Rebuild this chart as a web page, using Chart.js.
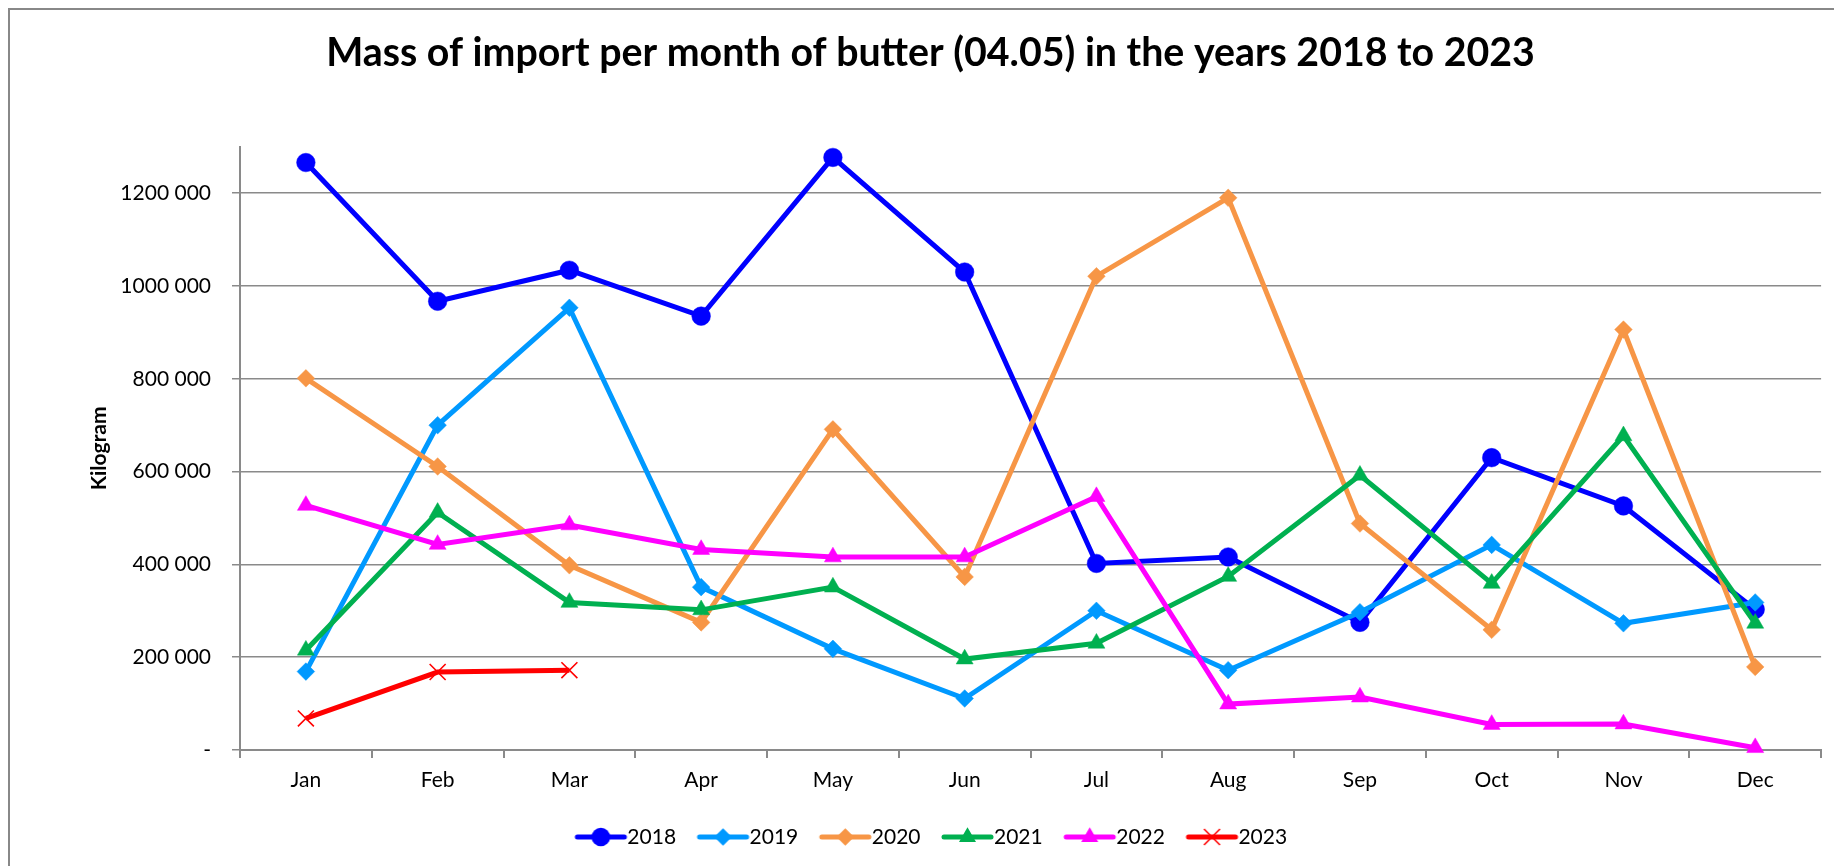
<!DOCTYPE html>
<html>
<head>
<meta charset="utf-8">
<script src="https://cdn.jsdelivr.net/npm/chart.js@4/dist/chart.umd.min.js"></script>
<style>html,body{margin:0;padding:0;background:#fff}canvas{display:block}</style>
</head>
<body>
<canvas id="c" width="1834" height="866"></canvas>
<script>
const months = ['Jan','Feb','Mar','Apr','May','Jun','Jul','Aug','Sep','Oct','Nov','Dec'];
const v2018 = [1266000, 967000, 1034000, 935000, 1277000, 1030000, 402000, 416000, 275000, 630000, 526000, 303000];
const v2019 = [169000, 700000, 953000, 351000, 218000, 111000, 300000, 172000, 297000, 442000, 273000, 318000];
const v2020 = [801000, 611000, 398000, 275000, 691000, 373000, 1021000, 1190000, 488000, 259000, 906000, 179000];
const v2021 = [215000, 512000, 318000, 302000, 351000, 196000, 230000, 374000, 592000, 359000, 677000, 273000];
const v2022 = [527000, 443000, 485000, 432000, 416000, 416000, 546000, 99000, 114000, 55000, 56000, 5000];
const v2023 = [68000, 168000, 172000];
const seriesNames = ['2018','2019','2020','2021','2022','2023'];
const yTickValues = [0, 200000, 400000, 600000, 800000, 1000000, 1200000];
const yTickLabels = ['-', '200 000', '400 000', '600 000', '800 000', '1000 000', '1200 000'];
const titleText = 'Mass of import per month of butter (04.05) in the years 2018 to 2023';
const yTitleText = 'Kilogram';

const seriesData = [v2018, v2019, v2020, v2021, v2022, v2023];
const seriesColors = ['#0000FF', '#0099FF', '#F79646', '#00B050', '#FF00FF', '#FF0000'];
const seriesStyles = ['circle', 'rectRot', 'rectRot', 'triangle', 'triangle', 'crossRot'];
const seriesRadii = [9.3, 8.8, 8.8, 9.8, 9.8, 11.3];
const FONT = 'Lato';
const GRID = '#8a8a8a';

function drawMarker(ctx, style, r, x, y) {
  ctx.beginPath();
  if (style === 'circle') {
    ctx.arc(x, y, r, 0, Math.PI * 2);
    ctx.fill();
  } else if (style === 'rectRot') {
    ctx.moveTo(x, y - r); ctx.lineTo(x + r, y); ctx.lineTo(x, y + r); ctx.lineTo(x - r, y); ctx.closePath();
    ctx.fill();
  } else if (style === 'triangle') {
    ctx.moveTo(x, y - r);
    ctx.lineTo(x + r * Math.sin(Math.PI / 3), y + r / 2);
    ctx.lineTo(x - r * Math.sin(Math.PI / 3), y + r / 2);
    ctx.closePath();
    ctx.fill();
  } else if (style === 'crossRot') {
    const d = r * Math.SQRT1_2;
    ctx.lineWidth = 1.6;
    ctx.lineCap = 'butt';
    ctx.moveTo(x - d, y - d); ctx.lineTo(x + d, y + d);
    ctx.moveTo(x + d, y - d); ctx.lineTo(x - d, y + d);
    ctx.stroke();
  }
}

function legendIcon(i) {
  const cv = document.createElement('canvas');
  cv.width = 70; cv.height = 26;
  const ctx = cv.getContext('2d');
  ctx.strokeStyle = seriesColors[i];
  ctx.fillStyle = seriesColors[i];
  ctx.lineWidth = 5;
  ctx.lineCap = 'round';
  ctx.beginPath(); ctx.moveTo(17, 13); ctx.lineTo(64, 13); ctx.stroke();
  drawMarker(ctx, seriesStyles[i], seriesRadii[i], 40.5, 13);
  return cv;
}
const legendIcons = seriesNames.map((_, i) => legendIcon(i));

const framePlugin = {
  id: 'frame',
  beforeDraw(chart) {
    const ctx = chart.ctx, w = chart.width, h = chart.height;
    ctx.save();
    ctx.fillStyle = '#fff';
    ctx.fillRect(0, 0, w, h);
    ctx.strokeStyle = '#888';
    ctx.lineWidth = 2;
    ctx.beginPath();
    ctx.moveTo(9, h + 5); ctx.lineTo(9, 9); ctx.lineTo(w + 5, 9);
    ctx.stroke();
    ctx.restore();
  }
};

const datasets = seriesNames.map((name, i) => ({
  label: name,
  data: seriesData[i],
  borderColor: seriesColors[i],
  backgroundColor: seriesColors[i],
  borderWidth: 5,
  pointStyle: seriesStyles[i],
  pointRadius: seriesRadii[i],
  pointBackgroundColor: seriesColors[i],
  pointBorderColor: seriesColors[i],
  pointBorderWidth: seriesStyles[i] === 'crossRot' ? 1.6 : 0.5,
  tension: 0,
  fill: false,
  clip: false,
  order: seriesNames.length - i
}));

new Chart(document.getElementById('c'), {
  type: 'line',
  data: { labels: months, datasets },
  plugins: [framePlugin],
  options: {
    responsive: false,
    animation: false,
    devicePixelRatio: 1,
    events: [],
    layout: { padding: { left: 34, right: 7, top: 0, bottom: 8.5 } },
    plugins: {
      tooltip: { enabled: false },
      title: {
        display: true,
        text: titleText,
        color: '#000',
        font: { family: FONT, size: 39.3, weight: 'bold' },
        padding: { top: 29.4, bottom: 70.2 }
      },
      legend: {
        display: true,
        position: 'bottom',
        labels: {
          usePointStyle: true,
          pointStyleWidth: 43,
          boxHeight: 21,
          padding: 20,
          color: '#000',
          font: { family: FONT, size: 21 },
          generateLabels: () => seriesNames.map((name, i) => ({
            text: name,
            pointStyle: legendIcons[i],
            fillStyle: seriesColors[i],
            strokeStyle: seriesColors[i],
            lineWidth: 0,
            hidden: false,
            datasetIndex: i,
            fontColor: '#000'
          }))
        }
      }
    },
    scales: {
      x: {
        type: 'category',
        offset: true,
        grid: { display: true, drawOnChartArea: false, drawTicks: true, tickLength: 8, offset: true, color: GRID, lineWidth: 2 },
        border: { display: true, color: GRID, width: 2 },
        ticks: { color: '#000', font: { family: FONT, size: 21 }, padding: 10, maxRotation: 0, autoSkip: false },
        afterFit: (s) => { s.height = 56.5; }
      },
      y: {
        min: 0,
        max: 1300000,
        afterBuildTicks: (s) => { s.ticks = yTickValues.map(v => ({ value: v })); },
        afterFit: (s) => { s.width = 206; },
        grid: { color: GRID, lineWidth: 1.5, tickLength: 8, drawTicks: true },
        border: { display: true, color: GRID, width: 2 },
        ticks: {
          color: '#000',
          font: { family: FONT, size: 21 },
          padding: 21,
          callback: (v) => { const k = yTickValues.indexOf(v); return k >= 0 ? yTickLabels[k] : ''; }
        },
        title: {
          display: true,
          text: yTitleText,
          color: '#000',
          font: { family: FONT, size: 21, weight: 'bold' },
          padding: { top: 53, bottom: 0 }
        }
      }
    }
  }
});
</script>
</body>
</html>
